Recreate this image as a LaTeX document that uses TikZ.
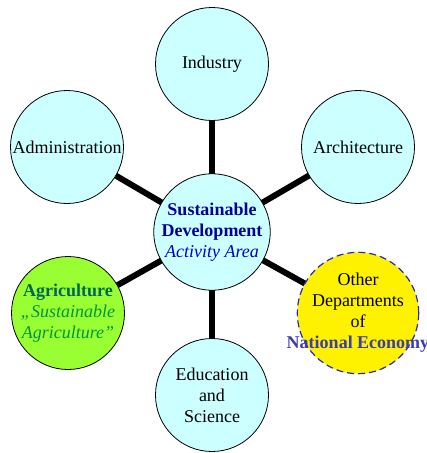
\documentclass[tikz,border=0pt]{standalone}
\usepackage{fontspec}
\setmainfont{Liberation Serif}
\usepackage{xcolor}
\usetikzlibrary{backgrounds}
\definecolor{bubblecyan}{RGB}{204,255,255}
\definecolor{agrigreen}{RGB}{153,255,51}
\definecolor{agridark}{RGB}{0,102,85}
\definecolor{agriital}{RGB}{0,150,60}
\definecolor{hubnavy}{RGB}{0,0,150}
\definecolor{hubital}{RGB}{0,0,200}
\definecolor{econblue}{RGB}{60,60,170}
\definecolor{dashblue}{RGB}{40,40,190}

\tikzset{
  bubble/.style={circle,draw=black,line width=0.8pt,fill=bubblecyan,
    minimum size=113pt,inner sep=0pt,align=center,
    font=\fontsize{18}{21}\selectfont},
  link/.style={line width=6pt,black}
}

\begin{document}
\begin{tikzpicture}[x=1pt,y=-1pt]
\useasboundingbox (0,0) rectangle (427,453);

\coordinate (hub) at (212,232);
\coordinate (top) at (212,64);
\coordinate (bot) at (212,395);
\coordinate (ul) at (67,147);
\coordinate (ur) at (358,147);
\coordinate (ll) at (68,313);
\coordinate (lr) at (358,313);

\node[bubble,minimum size=110pt] (sd) at (hub)
  {\textcolor{hubnavy}{\textbf{Sustainable}}\\
   \textcolor{hubnavy}{\textbf{Development}}\\
   \textcolor{hubital}{\textit{Activity Area}}};

\node[bubble] (ind) at (top) {Industry};
\node[bubble] (adm) at (ul) {\makebox[0pt][c]{Administration}};
\node[bubble] (arc) at (ur) {Architecture};
\node[bubble] (edu) at (bot) {Education\\and\\Science};
\node[bubble,fill=agrigreen] (agr) at (ll)
  {\textcolor{agridark}{\textbf{Agriculture}}\\
   \textcolor{agriital}{\textit{„Sustainable}}\\
   \textcolor{agriital}{\textit{Agriculture”}}};
\node[bubble,fill=yellow,draw=dashblue,dash pattern=on 7pt off 4pt,line width=1.2pt] (oth) at (lr)
  {Other\\Departments\\of\\
   \makebox[0pt][c]{\textcolor{econblue}{\textbf{National Economy}}}};

\begin{pgfonlayer}{background}
\foreach \n in {ind,adm,arc,edu,agr,oth}
  \draw[link] (sd.center) -- (\n.center);
\end{pgfonlayer}

\end{tikzpicture}
\end{document}
